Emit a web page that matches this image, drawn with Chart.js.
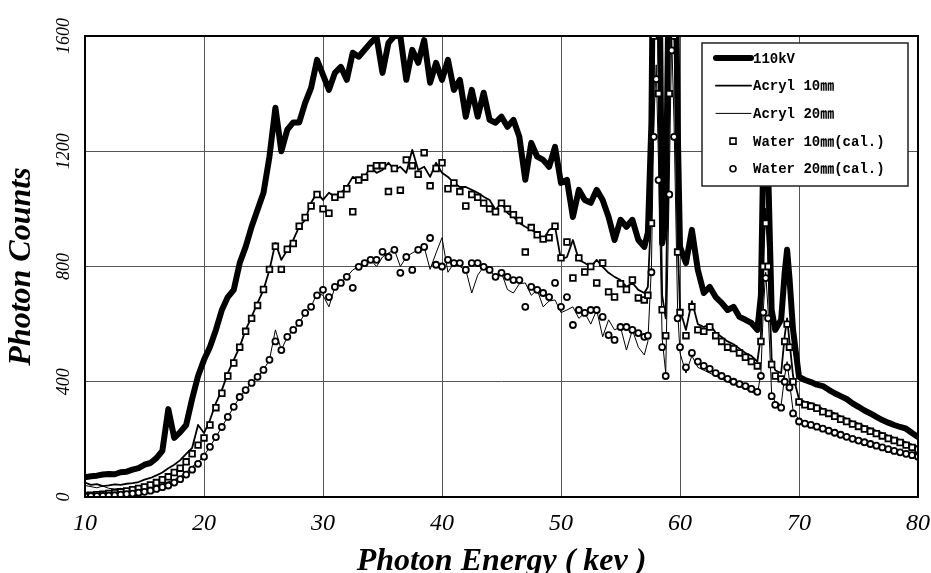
<!DOCTYPE html>
<html>
<head>
<meta charset="utf-8">
<script src="https://cdn.jsdelivr.net/npm/chart.js@4.4.0/dist/chart.umd.min.js"></script>
<style>
  html, body { margin: 0; padding: 0; background: #fff; overflow: hidden; }
  #wrap { width: 931px; height: 573px; overflow: hidden; }
</style>
</head>
<body>
<div id="wrap"><canvas id="spectrum" width="931" height="590"></canvas></div>
<script>
// photon energy (keV), finer around the K lines
const energy = [
  10,10.5,11,11.5,12,12.5,13,13.5,14,14.5,
  15,15.5,16,16.5,17,17.5,18,18.5,19,19.5,
  20,20.5,21,21.5,22,22.5,23,23.5,24,24.5,
  25,25.5,26,26.5,27,27.5,28,28.5,29,29.5,
  30,30.5,31,31.5,32,32.5,33,33.5,34,34.5,
  35,35.5,36,36.5,37,37.5,38,38.5,39,39.5,
  40,40.5,41,41.5,42,42.5,43,43.5,44,44.5,
  45,45.5,46,46.5,47,47.5,48,48.5,49,49.5,
  50,50.5,51,51.5,52,52.5,53,53.5,54,54.5,
  55,55.5,56,56.5,57,
  57.3,57.6,57.8,58,58.2,58.5,58.8,59.1,59.3,59.5,59.8,
  60,60.5,61,61.5,62,62.5,63,63.5,64,64.5,65,65.5,66,66.5,
  66.8,67,67.2,67.4,67.7,68,68.5,68.8,69,69.2,69.5,
  70,70.5,71,71.5,72,72.5,73,73.5,74,74.5,75,75.5,76,76.5,77,77.5,78,78.5,79,79.5,80
];

const tube110kV = [
  68,72,74,78,80,79,86,88,95,100,
  112,118,135,160,305,205,225,250,340,420,
  476,521,580,649,694,719,812,868,938,997,
  1056,1181,1351,1200,1275,1300,1300,1368,1420,1517,
  1465,1413,1472,1493,1448,1542,1528,1552,1576,1597,
  1472,1576,1600,1600,1448,1552,1507,1586,1438,1507,
  1448,1517,1413,1448,1320,1413,1320,1403,1309,1299,
  1320,1285,1309,1250,1101,1229,1181,1170,1146,1215,
  1090,1101,972,1066,1031,1021,1066,1031,972,892,
  962,938,962,892,868,
  917,1300,2200,2600,2200,880,950,2000,2900,2400,1300,
  868,812,927,788,708,729,694,674,649,660,625,615,604,580,
  700,1200,1350,1150,650,580,615,780,858,760,580,
  417,406,399,390,385,372,360,350,340,325,313,300,290,278,267,258,250,243,237,222,208
];

const acryl10 = [
  50,42,45,38,40,44,42,46,48,52,
  60,66,75,85,100,112,128,150,170,250,
  222,267,326,371,430,476,521,580,625,674,
  719,788,882,823,858,892,938,962,1021,1056,
  1031,1056,1042,1056,1076,1111,1101,1111,1146,1125,
  1135,1160,1135,1146,1125,1205,1135,1146,1111,1160,
  1125,1111,1090,1076,1076,1066,1056,1042,1031,997,
  1021,986,972,951,938,927,917,892,927,938,
  823,833,892,823,812,799,823,799,778,764,
  753,729,743,719,708,
  729,1000,1700,1900,1500,700,620,1500,2100,1700,900,
  650,580,680,600,590,600,570,555,540,530,515,500,490,470,
  560,850,1000,850,480,440,430,560,620,540,420,
  340,330,326,318,305,298,290,280,272,262,255,245,238,230,222,212,205,198,190,182,175
];

const acryl20 = [
  40,36,32,38,30,28,30,26,30,28,
  32,36,40,44,52,60,70,85,105,120,
  145,174,208,243,278,313,347,371,396,417,
  441,476,580,510,556,580,604,639,660,708,
  700,660,729,743,764,788,799,812,823,800,
  833,847,858,800,833,847,858,868,790,847,
  900,780,812,800,788,708,770,799,788,764,
  778,720,708,740,743,700,719,660,680,684,
  640,649,660,620,639,600,649,556,615,580,
  590,510,580,520,493,
  540,800,1300,1500,1150,550,430,1100,1600,1300,650,
  500,430,490,450,440,430,420,410,400,392,385,375,365,355,
  430,650,780,650,360,330,320,420,470,400,300,
  267,260,255,250,242,235,228,220,214,206,200,194,188,182,176,170,165,160,156,152,148
];

const water10 = [
  5,6,8,10,12,15,18,21,25,30,
  35,42,50,60,70,85,100,122,150,180,
  205,250,310,360,420,465,520,575,620,665,
  720,790,870,790,860,880,940,970,1010,1050,
  1000,985,1040,1050,1070,990,1100,1110,1140,1150,
  1150,1060,1140,1065,1170,1150,1120,1195,1080,1140,
  1160,1070,1090,1060,1010,1050,1040,1020,1000,990,
  1020,1000,980,960,850,935,910,895,900,940,
  830,885,760,830,781,800,743,812,712,694,
  740,720,753,691,684,
  700,950,1600,1800,1400,650,560,1400,2000,1600,850,
  640,560,660,580,575,590,560,540,520,515,500,485,470,455,
  540,800,950,800,460,420,410,540,600,520,400,
  330,320,315,308,296,290,280,270,262,253,245,236,228,220,212,203,196,189,180,172,165
];

const water20 = [
  2,3,3,4,5,6,8,10,12,15,
  18,22,28,34,40,50,62,78,95,115,
  140,174,208,243,278,313,347,371,396,417,
  441,476,540,510,556,580,604,639,660,700,
  719,694,729,743,764,726,799,812,823,823,
  851,833,858,778,833,788,858,868,899,806,
  800,823,812,812,788,812,812,799,788,764,
  778,764,753,753,660,729,719,708,694,743,
  660,694,597,649,639,649,649,625,562,545,
  590,590,580,569,556,
  560,780,1250,1450,1100,520,420,1050,1550,1250,620,
  520,450,500,470,455,445,430,420,410,400,392,385,375,365,
  420,640,760,620,350,320,310,400,450,380,290,
  262,255,250,244,237,230,223,216,209,202,196,190,184,178,172,166,160,155,150,145,140
];

const seriesLabels = ['110kV', 'Acryl 10㎜', 'Acryl 20㎜', 'Water 10㎜(cal.)', 'Water 20㎜(cal.)'];
const xTicks = [10, 20, 30, 40, 50, 60, 70, 80];
const yTicks = [0, 400, 800, 1200, 1600];

const serif = "'Liberation Serif', 'Times New Roman', serif";

function toPoints(values) {
  return values.map((v, i) => ({x: energy[i], y: v}));
}

function lineSet(label, values, width, order) {
  return {
    label: label, data: toPoints(values), order: order,
    borderColor: '#000', borderWidth: width, pointRadius: 0,
    borderJoinStyle: 'round', borderCapStyle: 'round',
    tension: 0, clip: 0, fill: false
  };
}

function markerSet(label, values, style, radius, order) {
  return {
    label: label, data: toPoints(values), order: order, showLine: false,
    pointStyle: style, pointRadius: radius, pointBorderWidth: 1.8,
    pointBorderColor: '#000', pointBackgroundColor: '#fff',
    borderColor: '#000', backgroundColor: '#fff', clip: 0
  };
}

// black frame round the plot area
const framePlugin = {
  id: 'frame',
  afterDatasetsDraw(chart) {
    const a = chart.chartArea, ctx = chart.ctx;
    ctx.save();
    ctx.strokeStyle = '#000';
    ctx.lineWidth = 2;
    ctx.strokeRect(a.left, a.top, a.right - a.left, a.bottom - a.top);
    ctx.restore();
  }
};

// boxed legend in the upper right corner of the plot
const legendBoxPlugin = {
  id: 'legendBox',
  afterDatasetsDraw(chart) {
    const a = chart.chartArea, ctx = chart.ctx;
    const x0 = a.right - 216, y0 = a.top + 7, w = 206, h = 143;
    ctx.save();
    ctx.fillStyle = '#fff';
    ctx.fillRect(x0, y0, w, h);
    ctx.strokeStyle = '#222';
    ctx.lineWidth = 1.5;
    ctx.strokeRect(x0, y0, w, h);
    ctx.font = "bold 14px 'Liberation Mono', 'Noto Sans CJK JP', monospace";
    ctx.textBaseline = 'middle';
    chart.data.datasets.forEach((ds, row) => {
      const y = y0 + 15 + row * 27.7;
      ctx.strokeStyle = '#000';
      ctx.fillStyle = '#fff';
      if (ds.showLine === false) {
        ctx.lineWidth = 1.6;
        ctx.beginPath();
        if (ds.pointStyle === 'rect') ctx.rect(x0 + 28, y - 3, 6, 6);
        else ctx.arc(x0 + 31, y, 3, 0, Math.PI * 2);
        ctx.fill();
        ctx.stroke();
      } else {
        ctx.lineWidth = ds.borderWidth;
        ctx.lineCap = 'round';
        ctx.beginPath();
        ctx.moveTo(x0 + 14, y);
        ctx.lineTo(x0 + 49, y);
        ctx.stroke();
      }
      ctx.fillStyle = '#000';
      ctx.fillText(ds.label, x0 + 51, y + 1);
    });
    ctx.restore();
  }
};

new Chart(document.getElementById('spectrum').getContext('2d'), {
  type: 'line',
  data: {
    datasets: [
      lineSet(seriesLabels[0], tube110kV, 6, 5),
      lineSet(seriesLabels[1], acryl10, 1.8, 4),
      lineSet(seriesLabels[2], acryl20, 1, 3),
      markerSet(seriesLabels[3], water10, 'rect', 4, 2),
      markerSet(seriesLabels[4], water20, 'circle', 3, 1)
    ]
  },
  options: {
    responsive: false,
    animation: false,
    devicePixelRatio: 1,
    layout: {padding: {top: 36, right: 0, left: 0, bottom: 0}},
    plugins: {legend: {display: false}, tooltip: {enabled: false}},
    scales: {
      x: {
        type: 'linear', min: xTicks[0], max: xTicks[xTicks.length - 1],
        afterBuildTicks: s => { s.ticks = xTicks.map(v => ({value: v})); },
        ticks: {color: '#000', padding: 12, maxRotation: 0,
                font: {family: serif, style: 'italic', size: 24}},
        grid: {color: '#555', lineWidth: 1, drawTicks: false},
        border: {display: false},
        title: {display: true, text: 'Photon Energy ( kev )', color: '#000',
                font: {family: serif, style: 'italic', weight: 'bold', size: 32},
                padding: {top: 0, bottom: 9}},
        afterFit: s => { s.height = 93; s.paddingLeft = 0; s.paddingRight = 13; }
      },
      y: {
        type: 'linear', min: yTicks[0], max: yTicks[yTicks.length - 1],
        afterBuildTicks: s => { s.ticks = yTicks.map(v => ({value: v})); },
        ticks: {color: '#000', padding: 3, minRotation: 90, maxRotation: 90, crossAlign: 'center',
                font: {family: serif, style: 'italic', size: 18},
                callback: v => String(v)},
        grid: {color: '#555', lineWidth: 1, drawTicks: false},
        border: {display: false},
        title: {display: true, text: 'Photon Counts', color: '#000',
                font: {family: serif, style: 'italic', weight: 'bold', size: 32},
                padding: {top: 3, bottom: 0}},
        afterFit: s => { s.width = 85; }
      }
    }
  },
  plugins: [framePlugin, legendBoxPlugin]
});
</script>
</body>
</html>
